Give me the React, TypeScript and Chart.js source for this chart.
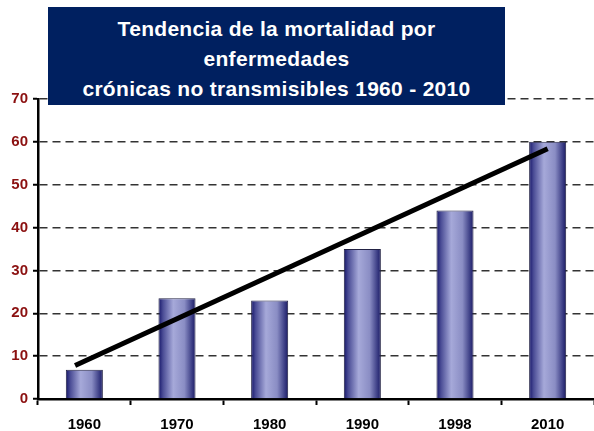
import React, { useEffect, useRef } from "react";
import { Chart, registerables } from "chart.js";
Chart.register(...registerables);

const categories = ["1960", "1970", "1980", "1990", "1998", "2010"];
const mortality = [6.8, 23.5, 23.0, 35.0, 44.0, 60.0];
const trendX = [-0.1, 5.0];
const trendY = [7.8, 58.4];
const yMin = 0;
const yMax = 70;
const yStep = 10;
const titleLines = [
  "Tendencia de la mortalidad por",
  "enfermedades",
  "crónicas no transmisibles 1960 - 2010",
];

const FONT = "'Liberation Sans', Arial, sans-serif";
const TICK_FONT = "'Liberation Sans Narrow', 'Arial Narrow', 'Liberation Sans', sans-serif";
const BAR_PCT = 0.4;

function barFill(c: any) {
  const chart = c.chart;
  const xs = chart.scales && chart.scales.x;
  if (!chart.chartArea || !xs || c.dataIndex === undefined) return "#8a8dc4";
  const x = xs.getPixelForValue(c.dataIndex);
  const w = (xs.width / categories.length) * BAR_PCT;
  const g = chart.ctx.createLinearGradient(x - w / 2, 0, x + w / 2, 0);
  g.addColorStop(0, "#141468");
  g.addColorStop(0.12, "#4a4c95");
  g.addColorStop(0.4, "#a6a9d9");
  g.addColorStop(0.7, "#8a8dc4");
  g.addColorStop(0.9, "#3d3f86");
  g.addColorStop(1, "#1a1a64");
  return g;
}

export default function App() {
  const ref = useRef<HTMLCanvasElement>(null);
  useEffect(() => {
    document.body.style.margin = "0";
    const chart = new Chart(ref.current!, {
      type: "bar",
      data: {
        labels: categories,
        datasets: [
          {
            type: "bar",
            data: mortality,
            backgroundColor: barFill,
            borderColor: "#222244",
            borderWidth: 1,
            barPercentage: BAR_PCT,
            categoryPercentage: 1,
            grouped: false,
            order: 1,
          } as any,
          {
            type: "line",
            parsing: false,
            data: trendX.map((x, i) => ({ x, y: trendY[i] })),
            borderColor: "#000",
            borderWidth: 5,
            pointRadius: 0,
            borderCapStyle: "butt",
            order: 0,
          } as any,
        ],
      },
      options: {
        animation: false,
        responsive: false,
        layout: { padding: { top: 99, left: 0, right: 0, bottom: 0 } },
        plugins: { legend: { display: false }, tooltip: { enabled: false }, title: { display: false } },
        scales: {
          x: {
            type: "category",
            min: 0,
            max: categories.length - 1,
            afterFit: (s: any) => {
              s.height = 32;
            },
            ticks: { color: "#000", font: { family: TICK_FONT, size: 15, weight: "bold" }, padding: 11 },
            grid: {
              drawOnChartArea: false,
              drawTicks: true,
              tickLength: 6,
              tickColor: "#000",
              tickWidth: 2,
              tickBorderDash: [],
            },
            border: { display: true, color: "#000", width: 2.5 },
          },
          y: {
            min: yMin,
            max: yMax,
            afterFit: (s: any) => {
              s.width = 38;
            },
            ticks: {
              stepSize: yStep,
              color: "#8b1010",
              font: { family: TICK_FONT, size: 15, weight: "bold" },
              padding: 5,
            },
            grid: {
              color: (c: any) => (c.tick && c.tick.value === 0 ? "rgba(0,0,0,0)" : "#333"),
              lineWidth: 1.5,
              drawTicks: true,
              tickLength: 5,
              tickColor: "#000",
              tickWidth: 2,
              tickBorderDash: [],
            },
            border: { display: true, color: "#000", width: 2.5, dash: [8, 5] },
          },
        },
      } as any,
    });
    return () => chart.destroy();
  }, []);
  return (
    <div style={{ position: "relative", width: 594, height: 431, background: "#fff" }}>
      <canvas ref={ref} width={594} height={431} style={{ display: "block" }} />
      <div
        style={{
          position: "absolute",
          left: 48,
          top: 7,
          width: 457,
          height: 98,
          boxSizing: "border-box",
          paddingTop: 7,
          background: "#002060",
          color: "#fff",
          fontFamily: FONT,
          fontWeight: "bold",
          fontSize: 21,
          letterSpacing: "0.3px",
          lineHeight: "30px",
          textAlign: "center",
        }}
      >
        {titleLines.map((t, i) => (
          <div key={i}>{t}</div>
        ))}
      </div>
    </div>
  );
}
